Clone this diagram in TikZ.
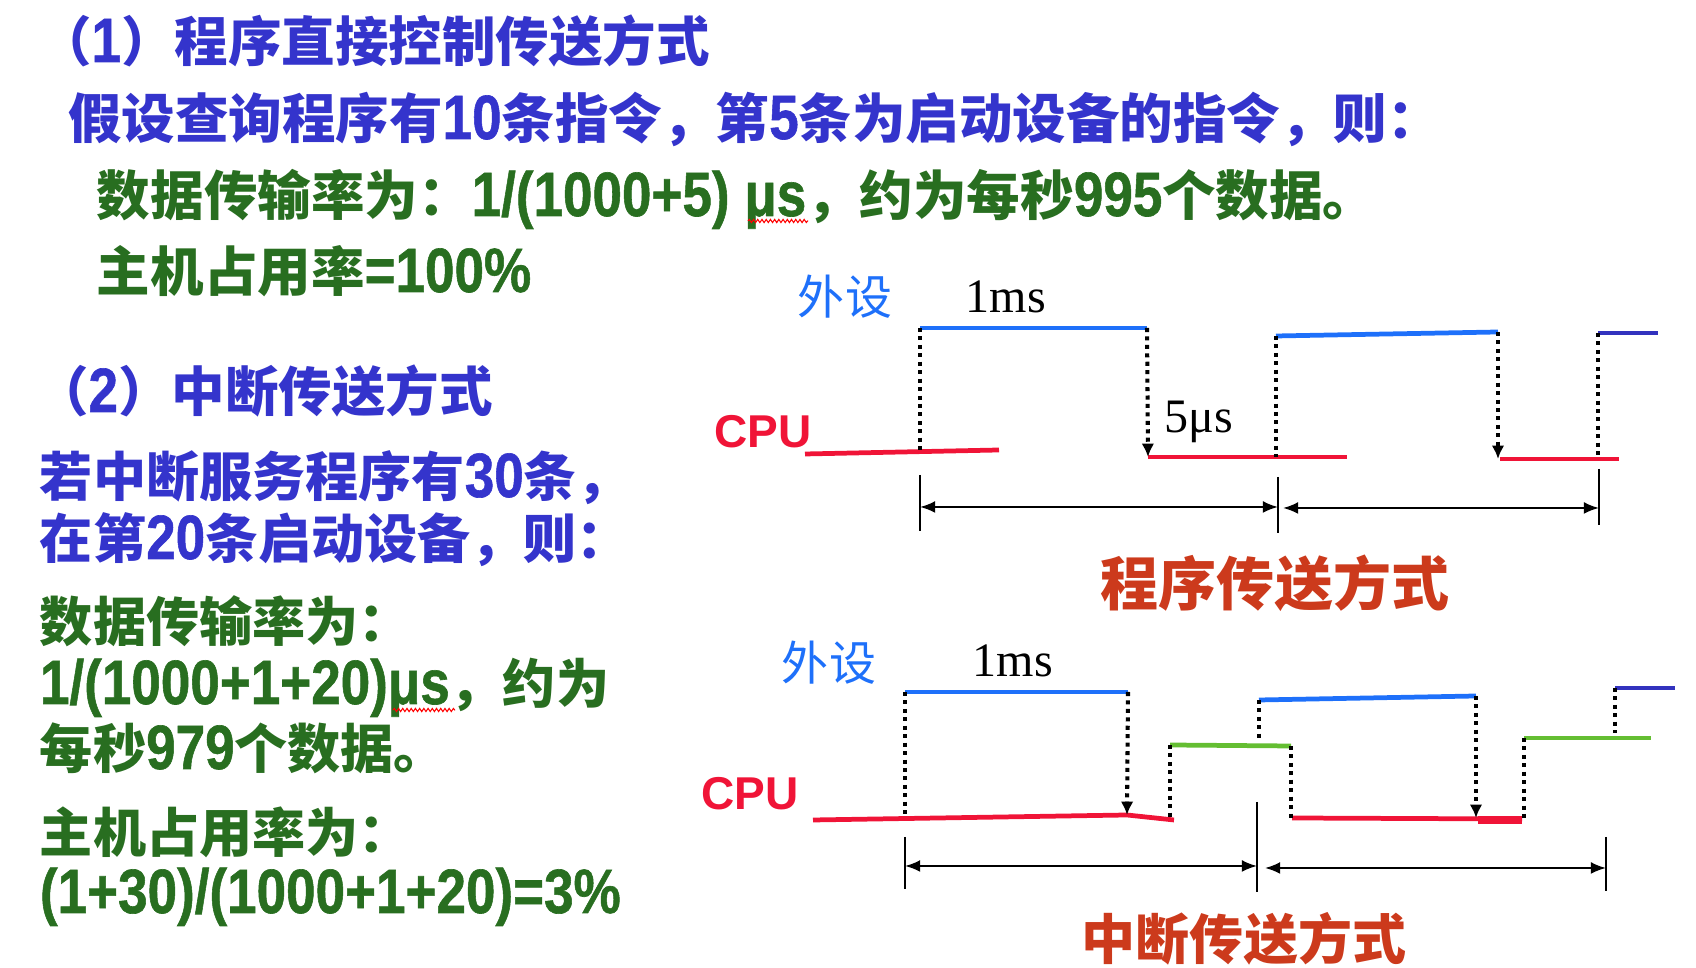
\documentclass[tikz,border=0pt]{standalone}
\usepackage{fontspec}
\usepackage{graphicx}
\usetikzlibrary{arrows.meta,decorations.pathmorphing}
\newfontfamily\hei{Noto Sans CJK SC}
\newfontfamily\arib{Liberation Sans Bold}
\newfontfamily\aribody{Liberation Sans Bold}[FakeBold=1]
\newfontfamily\tms{Liberation Serif}
% Latin runs inside the Chinese text: bold Arial-like face, set a little tall
\newcommand\la[1]{\scalebox{1}[1.18]{\aribody\fontsize{15.08pt}{15.08pt}\selectfont #1}}
\definecolor{headblue}{RGB}{52,52,204}
\definecolor{bodygreen}{RGB}{40,110,32}
\definecolor{devblue}{RGB}{30,112,250}
\definecolor{cpured}{RGB}{240,20,55}
\definecolor{busgreen}{RGB}{100,190,50}
\definecolor{navyline}{RGB}{50,50,190}
\definecolor{titlered}{RGB}{204,58,28}
\tikzset{
  txt/.style={inner sep=0pt, outer sep=0pt, anchor=base west},
  toptext/.style={txt, font=\hei\bfseries\fontsize{15.22pt}{15.22pt}\selectfont},
  lowtext/.style={txt, font=\hei\bfseries\fontsize{15.1pt}{15.1pt}\selectfont},
  headblue/.style={text=headblue},
  bodygreen/.style={text=bodygreen},
  devlabel/.style={inner sep=0pt, anchor=base, text=devblue, font=\hei\fontsize{13.37pt}{13.37pt}\selectfont},
  cpulabel/.style={inner sep=0pt, anchor=base west, text=cpured, font=\arib\fontsize{13.09pt}{13.09pt}\selectfont},
  timelabel/.style={inner sep=0pt, anchor=base, font=\tms\fontsize{13.66pt}{13.66pt}\selectfont},
  modetitle/.style={inner sep=0pt, anchor=base, text=titlered, font=\hei\bfseries},
  sig/.style={line width=1.35pt},
  devline/.style={sig, draw=devblue},
  cpuline/.style={sig, draw=cpured},
  busline/.style={sig, draw=busgreen},
  navy/.style={sig, draw=navyline},
  guide/.style={line width=1.15pt, dash pattern=on 1.15pt off 1.25pt},
  guidearrow/.style={guide, -{Latex[length=3.8pt,width=3.6pt]}},
  span/.style={line width=0.6pt, {Latex[length=4.3pt,width=3.4pt]}-{Latex[length=4.3pt,width=3.4pt]}},
  tickline/.style={line width=0.45pt},
  squiggle/.style={draw=red, line width=0.3pt, decorate,
    decoration={snake, segment length=1.2pt, amplitude=0.45pt}},
}
\begin{document}
\begin{tikzpicture}[x=0.01cm,y=-0.01cm]
\useasboundingbox (0,0) rectangle (1696,968);

% ---------- text: programmed transfer ----------
\node[toptext, headblue] (h1) at (38,62) {（\la{1}）程序直接控制传送方式};
\node[toptext, headblue] (h1a) at (68,139) {假设查询程序有\la{10}条指令，第\la{5}条为启动设备的指令，则：};
\node[toptext, bodygreen] (h1b) at (97,216) {数据传输率为：\la{1/(1000+5) μs}，约为每秒\la{995}个数据。};
\node[toptext, bodygreen] (h1c) at (97,292) {主机占用率\la{=100\%}};
\coordinate (sq1a) at (748,221);
\coordinate (sq1b) at (808,221);
\draw[squiggle] (sq1a) -- (sq1b);

% ---------- text: interrupt transfer ----------
\node[toptext, headblue] (h2) at (35,412) {（\la{2}）中断传送方式};
\node[lowtext, headblue] (h2a) at (40,497) {若中断服务程序有\la{30}条，};
\node[lowtext, headblue] (h2b) at (40,559) {在第\la{20}条启动设备，则：};
\node[lowtext, bodygreen] (h2c) at (40,642) {数据传输率为：};
\node[lowtext, bodygreen] (h2d) at (40,704) {\la{1/(1000+1+20)μs}，约为};
\node[lowtext, bodygreen] (h2e) at (40,769) {每秒\la{979}个数据。};
\node[lowtext, bodygreen] (h2f) at (40,853) {主机占用率为：};
\node[lowtext, bodygreen] (h2g) at (40,913) {\la{(1+30)/(1000+1+20)=3\%}};
\coordinate (sq2a) at (393,710);
\coordinate (sq2b) at (455,710);
\draw[squiggle] (sq2a) -- (sq2b);

% ---------- timing chart: programmed transfer ----------
\node[devlabel] (dev1) at (845,315) {外设};
\node[timelabel] (ms1) at (1006,313) {1ms};
\node[timelabel] (us1) at (1199,433) {5μs};
\node[cpulabel] (cpu1) at (714,448) {CPU};
\node[modetitle, font=\hei\bfseries\fontsize{16.5pt}{16.5pt}\selectfont] (t1) at (1275,606) {程序传送方式};

\coordinate (pa1) at (805,454);  \coordinate (pa2) at (999,450);
\coordinate (pa0) at (920,452.5);
\coordinate (pb1) at (920,328);  \coordinate (pb2) at (1147,328);
\coordinate (pc1) at (1148,457); \coordinate (pc2) at (1347,457);
\coordinate (pc0) at (1276,457);
\coordinate (pd1) at (1276,336); \coordinate (pd2) at (1498,332);
\coordinate (pe1) at (1500,459); \coordinate (pe2) at (1619,459);
\coordinate (pe0) at (1598,459);
\coordinate (pf1) at (1598,333); \coordinate (pf2) at (1658,333);

\draw[cpuline] (pa1) -- (pa2);
\draw[devline] (pb1) -- (pb2);
\draw[cpuline] (pc1) -- (pc2);
\draw[devline] (pd1) -- (pd2);
\draw[cpuline] (pe1) -- (pe2);
\draw[navy] (pf1) -- (pf2);
\draw[guide] (pb1) -- (pa0);
\draw[guidearrow] (pb2) -- (pc1);
\draw[guide] (pd1) -- (pc0);
\draw[guidearrow] (pd2) -- (pe1 -| pd2);
\draw[guide] (pf1) -- (pe0);

\coordinate (pt1a) at (920,475);  \coordinate (pt1b) at (920,531);
\coordinate (pt2a) at (1278,477); \coordinate (pt2b) at (1278,533);
\coordinate (pt3a) at (1599,469); \coordinate (pt3b) at (1599,525);
\draw[tickline] (pt1a) -- (pt1b);
\draw[tickline] (pt2a) -- (pt2b);
\draw[tickline] (pt3a) -- (pt3b);
\coordinate (ps1a) at (920,507);  \coordinate (ps1b) at (1278,507);
\coordinate (ps2a) at (1283,508); \coordinate (ps2b) at (1599,508);
\draw[span] (ps1a) -- (ps1b);
\draw[span] (ps2a) -- (ps2b);

% ---------- timing chart: interrupt transfer ----------
\node[devlabel] (dev2) at (829,681) {外设};
\node[timelabel] (ms2) at (1013,677) {1ms};
\node[cpulabel] (cpu2) at (701,810) {CPU};
\node[modetitle, font=\hei\bfseries\fontsize{15.36pt}{15.36pt}\selectfont] (t2) at (1244,960) {中断传送方式};

\coordinate (ia1) at (813,820);  \coordinate (ia2) at (1127,815); \coordinate (ia3) at (1174,820);
\coordinate (ia0) at (905,818.5);
\coordinate (ib1) at (905,692);  \coordinate (ib2) at (1128,692);
\coordinate (ic1) at (1170,745); \coordinate (ic2) at (1291,746);
\coordinate (ic0) at (1170,820);
\coordinate (id1) at (1259,700); \coordinate (id2) at (1476,696);
\coordinate (id0) at (1259,741);
\coordinate (ie1) at (1292,818); \coordinate (ie2) at (1522,819);
\coordinate (ie3) at (1478,820); \coordinate (ie4) at (1522,820);
\coordinate (ie0) at (1291,818);
\coordinate (ig1) at (1524,738); \coordinate (ig2) at (1651,738);
\coordinate (ig0) at (1524,819);
\coordinate (ih1) at (1615,688); \coordinate (ih2) at (1675,688);
\coordinate (ih0) at (1615,733);

\draw[cpuline] (ia1) -- (ia2) -- (ia3);
\draw[devline] (ib1) -- (ib2);
\draw[busline] (ic1) -- (ic2);
\draw[devline] (id1) -- (id2);
\draw[cpuline] (ie1) -- (ie2);
\draw[cpuline, line width=2pt] (ie3) -- (ie4);
\draw[busline] (ig1) -- (ig2);
\draw[navy] (ih1) -- (ih2);
\draw[guide] (ib1) -- (ia0);
\draw[guidearrow] (ib2) -- (ia2);
\draw[guide] (ic1) -- (ic0);
\draw[guide] (ic2) -- (ie0);
\draw[guide] (id1) -- (id0);
\draw[guidearrow] (id2) -- (ie1 -| id2);
\draw[guide] (ig1) -- (ig0);
\draw[guide] (ih1) -- (ih0);

\coordinate (it1a) at (905,837);  \coordinate (it1b) at (905,889);
\coordinate (it2a) at (1257,802); \coordinate (it2b) at (1257,892);
\coordinate (it3a) at (1606,837); \coordinate (it3b) at (1606,891);
\draw[tickline] (it1a) -- (it1b);
\draw[tickline] (it2a) -- (it2b);
\draw[tickline] (it3a) -- (it3b);
\coordinate (is1a) at (905,866);  \coordinate (is1b) at (1257,866);
\coordinate (is2a) at (1265,868); \coordinate (is2b) at (1606,868);
\draw[span] (is1a) -- (is1b);
\draw[span] (is2a) -- (is2b);
\end{tikzpicture}
\end{document}
